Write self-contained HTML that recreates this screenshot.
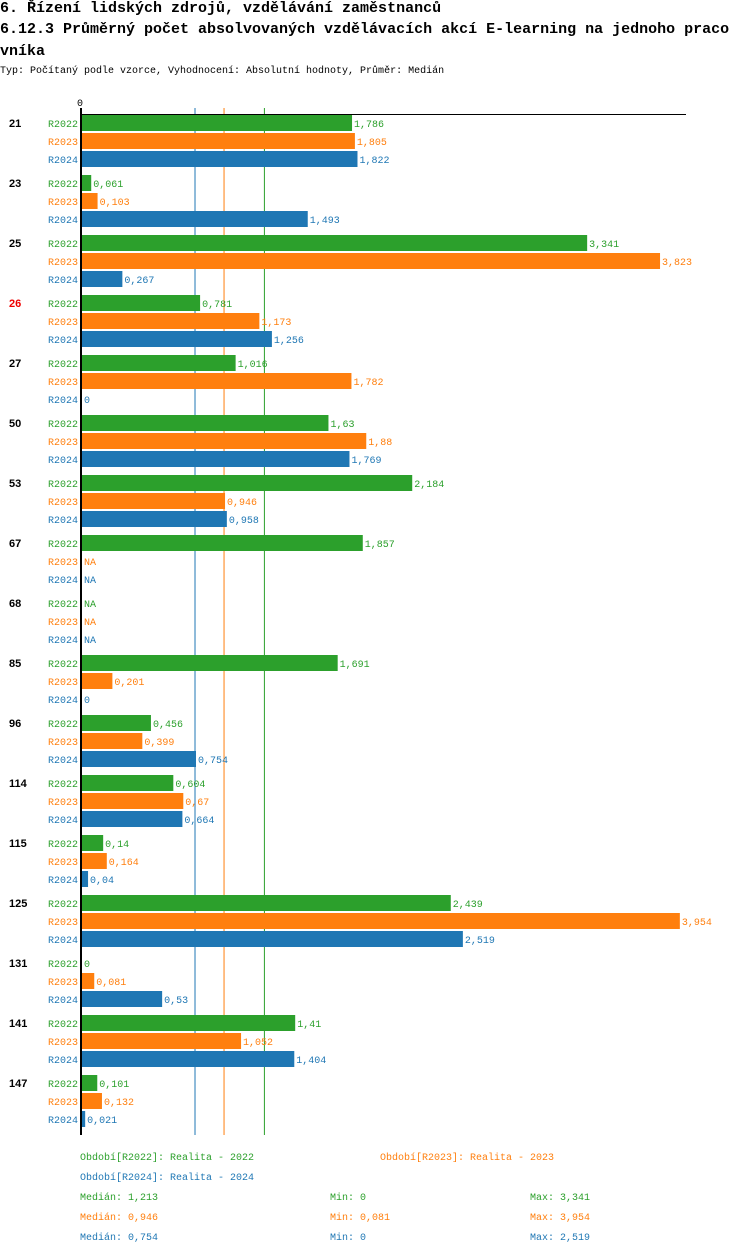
<!DOCTYPE html>
<html><head><meta charset="utf-8"><style>
body{margin:0;background:#fff;width:750px;height:1254px;overflow:hidden;font-family:"Liberation Mono",monospace}
.t{position:absolute;left:0;font-size:15px;color:#000;white-space:nowrap;font-weight:bold;line-height:18px}
.s{position:absolute;left:0;top:66px;font-size:10px;white-space:nowrap}
svg{position:absolute;left:0;top:0}
</style></head><body>
<div class="t" style="top:0px">6. Řízení lidských zdrojů, vzdělávání zaměstnanců</div>
<div class="t" style="top:21px">6.12.3 Průměrný počet absolvovaných vzdělávacích akcí E-learning na jednoho praco</div>
<div class="t" style="top:43px">vníka</div>
<div class="s">Typ: Počítaný podle vzorce, Vyhodnocení: Absolutní hodnoty, Průměr: Medián</div>
<svg id="c" width="750" height="1254"></svg>
<script>
const categories=["21","23","25","26","27","50","53","67","68","85","96","114","115","125","131","141","147"];
const series=["R2022","R2023","R2024"];
const v2022=[1.786,0.061,3.341,0.781,1.016,1.63,2.184,1.857,null,1.691,0.456,0.604,0.14,2.439,0,1.41,0.101];
const v2023=[1.805,0.103,3.823,1.173,1.782,1.88,0.946,null,null,0.201,0.399,0.67,0.164,3.954,0.081,1.052,0.132];
const v2024=[1.822,1.493,0.267,1.256,0,1.769,0.958,null,null,0,0.754,0.664,0.04,2.519,0.53,1.404,0.021];
const medians=[1.213,0.946,0.754];
const mins=["0","0,081","0"];
const maxs=["3,341","3,954","2,519"];
const legendText=["Období[R2022]: Realita - 2022","Období[R2023]: Realita - 2023","Období[R2024]: Realita - 2024"];
const colors=["#2ca02c","#ff7f0e","#1f77b4"];
const vals=[v2022,v2023,v2024];
const NS="http://www.w3.org/2000/svg";
const svg=document.getElementById('c');
const x=v=>82+v*151.2;
const gy=i=>115+i*60;
function mk(t,a,txt){const e=document.createElementNS(NS,t);for(const k in a)e.setAttribute(k,a[k]);if(txt!=null)e.textContent=txt;svg.appendChild(e);return e;}
const fmt=v=>String(v).replace('.',',');
[2,1,0].forEach(j=>{
  const m=mk('line',{x1:x(medians[j])-1,x2:x(medians[j])-1,y1:108,y2:1135,stroke:colors[j],'stroke-width':1});
  
  
});
categories.forEach((c,i)=>{
  const t=mk('text',{x:9,y:gy(i)+12,'font-family':'Liberation Sans,sans-serif','font-weight':'bold','font-size':11,fill:c==="26"?"#e00":"#000"},c);
  
  
  series.forEach((s,j)=>{
    const y=gy(i)+j*18;
    const l=mk('text',{x:78,y:y+12,'text-anchor':'end','font-size':10,fill:colors[j]},s);
    
    
    const v=vals[j][i];
    let end=82;
    if(v!==null&&v>0){
      const r=mk('rect',{x:82,y:y,width:x(v)-82,height:16,fill:colors[j]});
      
      
      end=x(v);
    }
    const vl=mk('text',{x:end+2,y:y+12,'font-size':10,fill:colors[j]},v===null?"NA":fmt(v));
    
    
  });
});
const ax=mk('line',{x1:81,x2:81,y1:108,y2:1135,stroke:'#000','stroke-width':2});


const tx=mk('line',{x1:81,x2:686,y1:114.5,y2:114.5,stroke:'#000','stroke-width':1});


const t0=mk('text',{x:80,y:106,'text-anchor':'middle','font-size':10,fill:'#000'},"0");


const lp=[[80,1160],[380,1160],[80,1180]];
legendText.forEach((s,j)=>{
  const e=mk('text',{x:lp[j][0],y:lp[j][1],'font-size':10,fill:colors[j]},s);
  
  
});
series.forEach((s,j)=>{
  const y=1200+j*20;
  const a=mk('text',{x:80,y:y,'font-size':10,fill:colors[j]},"Medián: "+fmt(medians[j]));
  
  
  const b=mk('text',{x:330,y:y,'font-size':10,fill:colors[j]},"Min: "+mins[j]);
  
  
  const d=mk('text',{x:530,y:y,'font-size':10,fill:colors[j]},"Max: "+maxs[j]);
  
  
});
</script>
</body></html>
